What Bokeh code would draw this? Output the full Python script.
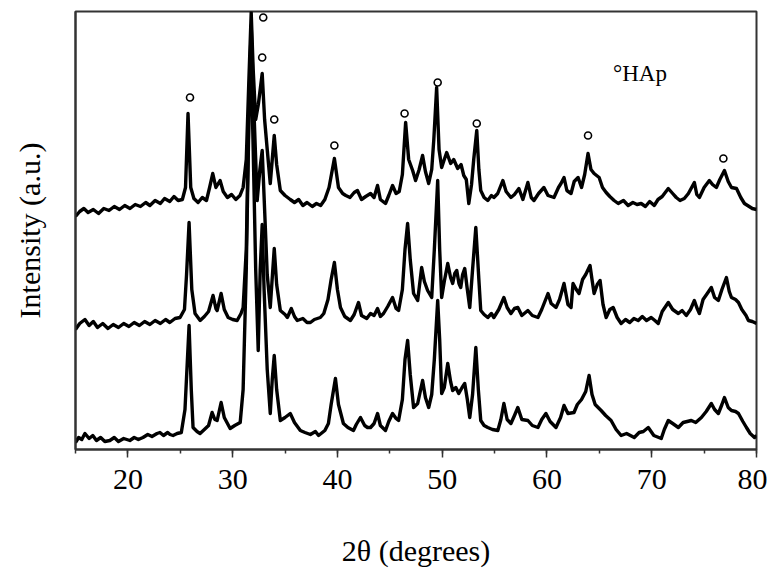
from bokeh.plotting import figure
from bokeh.models import Range1d, SingleIntervalTicker, FixedTicker
from bokeh.embed import file_html
from bokeh.resources import INLINE
from bokeh.core.properties import value

# XRD patterns (2theta in degrees, intensity in a.u.), three stacked samples
TOP = [(15.0, 233), (15.4, 238), (15.8, 241), (16.2, 237), (16.7, 240), (17.2, 236), (17.7, 241), (18.2, 239),
       (18.7, 243), (19.2, 240), (19.7, 244), (20.2, 241), (20.7, 245), (21.2, 243), (21.7, 247), (22.1, 244),
       (22.6, 249), (23.1, 246), (23.5, 251), (24.0, 248), (24.4, 253), (24.8, 249), (25.2, 250), (25.5, 262),
       (25.74, 336), (26.0, 262), (26.3, 251), (26.7, 247), (27.1, 252), (27.5, 249), (27.8, 262), (28.1, 276),
       (28.4, 262), (28.8, 269), (29.1, 258), (29.5, 252), (29.9, 255), (30.3, 250), (30.7, 254), (31.0, 262),
       (31.3, 290), (31.55, 370), (31.77, 437), (31.96, 380), (32.2, 330), (32.45, 345), (32.82, 376), (33.05, 330),
       (33.3, 300), (33.59, 266), (33.78, 290), (33.97, 314), (34.2, 285), (34.55, 259), (35.0, 254), (35.5, 250),
       (35.9, 247), (36.3, 250), (36.7, 244), (37.1, 247), (37.6, 243), (38.0, 246), (38.4, 244), (38.8, 250),
       (39.2, 262), (39.71, 291), (40.1, 262), (40.5, 256), (40.8, 254), (41.2, 252), (41.6, 257), (41.91, 259),
       (42.3, 250), (42.7, 253), (43.16, 256), (43.5, 252), (43.83, 264), (44.1, 250), (44.59, 246), (44.9, 254),
       (45.26, 264), (45.6, 256), (45.9, 258), (46.2, 275), (46.51, 327), (46.8, 290), (47.18, 279), (47.46, 269),
       (47.8, 280), (48.13, 294), (48.4, 278), (48.71, 266), (49.0, 280), (49.2, 310), (49.47, 362), (49.7, 300),
       (49.95, 282), (50.2, 290), (50.43, 297), (50.81, 286), (51.1, 290), (51.48, 281), (51.8, 285), (52.06, 274),
       (52.3, 270), (52.54, 246), (52.8, 265), (53.01, 290), (53.3, 319), (53.5, 280), (53.68, 259), (54.0, 252),
       (54.35, 249), (54.7, 254), (54.93, 252), (55.3, 256), (55.79, 269), (56.1, 258), (56.56, 252), (56.9, 255),
       (57.32, 261), (57.7, 250), (58.18, 267), (58.5, 252), (58.76, 249), (59.2, 256), (59.71, 262), (60.1, 254),
       (60.67, 252), (61.1, 262), (61.34, 266), (61.63, 272), (61.9, 259), (62.3, 256), (62.6, 268), (62.97, 272),
       (63.3, 262), (63.6, 275), (63.92, 296), (64.2, 280), (64.5, 276), (64.98, 272), (65.3, 262), (65.65, 257),
       (66.0, 253), (66.41, 249), (66.8, 246), (67.3, 249), (67.75, 244), (68.2, 247), (68.6, 245), (68.99, 246),
       (69.4, 243), (69.8, 248), (70.24, 244), (70.6, 250), (71.0, 253), (71.58, 261), (72.0, 256), (72.34, 252),
       (72.7, 249), (73.11, 251), (73.5, 256), (74.07, 267), (74.3, 255), (74.55, 252), (75.0, 262), (75.5, 269),
       (75.8, 265), (76.17, 262), (76.5, 270), (76.94, 279), (77.3, 268), (77.61, 262), (78.09, 261), (78.5, 252),
       (78.85, 246), (79.3, 243), (79.6, 241), (80.0, 240)]

MIDDLE = [(15.0, 120), (15.4, 126), (15.9, 130), (16.3, 124), (16.7, 128), (17.1, 122), (17.6, 126), (18.1, 121),
          (18.6, 125), (19.1, 122), (19.6, 126), (20.1, 123), (20.6, 127), (21.1, 124), (21.6, 128), (22.1, 125),
          (22.6, 129), (23.1, 126), (23.6, 130), (24.0, 127), (24.5, 131), (24.98, 132), (25.4, 140), (25.6, 175),
          (25.84, 227), (26.1, 160), (26.41, 136), (26.9, 129), (27.3, 133), (27.7, 138), (28.13, 154), (28.4, 141),
          (28.52, 139), (28.9, 156), (29.2, 140), (29.57, 132), (30.0, 130), (30.43, 129), (30.8, 136), (31.0, 142),
          (31.3, 200), (31.55, 340), (31.77, 424), (31.96, 360), (32.2, 290), (32.34, 249), (32.6, 280), (32.82, 299),
          (33.05, 240), (33.3, 175), (33.59, 142), (33.8, 175), (33.97, 201), (34.2, 165), (34.55, 139), (35.0, 135),
          (35.22, 132), (35.6, 141), (35.9, 133), (36.17, 129), (36.7, 131), (37.1, 127), (37.42, 127), (37.8, 130),
          (38.37, 132), (38.7, 136), (39.1, 150), (39.4, 170), (39.71, 187), (40.0, 160), (40.29, 142), (40.7, 133),
          (41.24, 129), (41.6, 135), (42.01, 147), (42.3, 134), (42.8, 131), (43.16, 136), (43.5, 134), (43.83, 141),
          (44.1, 133), (44.4, 136), (44.8, 143), (45.26, 152), (45.6, 141), (45.84, 139), (46.2, 160), (46.45, 200),
          (46.7, 226), (46.95, 190), (47.27, 156), (47.66, 149), (48.04, 182), (48.3, 168), (48.61, 159), (49.0, 152),
          (49.25, 200), (49.57, 269), (49.76, 200), (49.95, 152), (50.2, 168), (50.53, 186), (50.8, 172), (51.0, 166),
          (51.2, 176), (51.39, 179), (51.6, 166), (51.77, 162), (51.95, 175), (52.15, 181), (52.4, 160), (52.63, 142),
          (52.9, 180), (53.21, 222), (53.5, 170), (53.68, 139), (54.0, 135), (54.35, 132), (54.7, 136), (54.93, 132),
          (55.4, 140), (55.89, 152), (56.2, 142), (56.56, 136), (56.9, 141), (57.22, 142), (57.6, 134), (58.18, 139),
          (58.6, 134), (59.14, 132), (59.5, 140), (60.1, 156), (60.4, 146), (60.86, 142), (61.2, 150), (61.63, 166),
          (62.0, 145), (62.3, 142), (62.49, 166), (62.8, 160), (63.06, 156), (63.4, 170), (63.7, 175), (64.11, 184),
          (64.3, 170), (64.5, 156), (64.8, 165), (65.07, 169), (65.35, 145), (65.65, 132), (66.0, 140), (66.32, 142),
          (66.7, 132), (67.08, 126), (67.5, 130), (67.9, 127), (68.3, 131), (68.71, 129), (69.1, 133), (69.5, 129),
          (69.95, 132), (70.3, 129), (70.62, 126), (71.0, 138), (71.58, 147), (72.0, 140), (72.54, 136), (72.9, 139),
          (73.3, 134), (73.7, 140), (74.07, 149), (74.3, 142), (74.55, 136), (74.9, 150), (75.3, 156), (75.69, 162),
          (76.0, 152), (76.36, 149), (76.7, 160), (77.13, 172), (77.4, 158), (77.61, 152), (78.0, 150), (78.28, 147),
          (78.6, 140), (79.0, 134), (79.23, 129), (79.6, 128), (80.0, 126)]

BOTTOM = [(15.0, 7), (15.3, 12), (15.6, 10), (15.9, 16), (16.3, 11), (16.65, 14), (17.0, 9), (17.4, 12), (17.8, 8),
          (18.28, 9), (18.7, 12), (19.1, 8), (19.6, 11), (20.19, 9), (20.6, 12), (21.0, 10), (21.44, 12), (21.9, 15),
          (22.3, 13), (22.78, 16), (23.06, 17), (23.4, 14), (23.8, 17), (24.02, 15), (24.31, 14), (24.7, 16),
          (25.1, 17), (25.45, 40), (25.84, 124), (26.05, 60), (26.22, 22), (26.6, 18), (26.89, 16), (27.3, 20),
          (27.7, 24), (28.04, 37), (28.3, 30), (28.52, 29), (28.9, 47), (29.2, 32), (29.76, 21), (30.2, 24),
          (30.72, 27), (31.0, 60), (31.3, 180), (31.55, 330), (31.77, 390), (31.96, 300), (32.2, 180), (32.44, 99),
          (32.63, 180), (32.82, 225), (33.0, 160), (33.3, 80), (33.59, 36), (33.78, 70), (33.97, 94), (34.2, 60),
          (34.55, 29), (35.0, 32), (35.5, 36), (35.9, 27), (36.46, 19), (36.9, 17), (37.42, 15), (37.9, 18),
          (38.2, 14), (38.8, 19), (39.14, 26), (39.4, 45), (39.81, 71), (40.1, 45), (40.57, 26), (41.0, 22),
          (41.53, 19), (41.8, 25), (42.2, 32), (42.6, 24), (42.87, 22), (43.16, 22), (43.5, 26), (43.83, 36),
          (44.1, 24), (44.59, 19), (44.9, 28), (45.26, 36), (45.6, 31), (45.84, 29), (46.2, 50), (46.45, 90),
          (46.7, 109), (46.95, 75), (47.27, 42), (47.66, 46), (48.13, 69), (48.4, 52), (48.71, 42), (49.0, 55),
          (49.25, 90), (49.57, 149), (49.76, 110), (49.95, 56), (50.2, 62), (50.53, 86), (50.8, 68), (51.0, 59),
          (51.3, 62), (51.58, 56), (51.9, 62), (52.15, 66), (52.4, 50), (52.63, 32), (52.9, 55), (53.21, 102),
          (53.45, 60), (53.68, 29), (54.0, 24), (54.35, 22), (54.8, 20), (55.31, 19), (55.6, 30), (55.89, 46),
          (56.2, 30), (56.56, 26), (56.9, 34), (57.22, 42), (57.6, 30), (58.18, 29), (58.6, 24), (59.14, 22),
          (59.5, 30), (59.9, 36), (60.3, 28), (60.86, 22), (61.3, 32), (61.63, 44), (62.0, 36), (62.58, 37),
          (62.9, 45), (63.3, 50), (63.7, 58), (64.02, 74), (64.3, 55), (64.6, 45), (65.17, 39), (65.6, 34),
          (66.12, 29), (66.6, 20), (67.08, 14), (67.6, 16), (68.33, 12), (68.8, 17), (69.2, 18), (69.67, 22),
          (70.2, 14), (70.91, 11), (71.2, 20), (71.58, 29), (72.0, 26), (72.54, 22), (73.0, 27), (73.78, 29),
          (74.2, 27), (74.74, 32), (75.2, 38), (75.69, 46), (76.0, 40), (76.36, 36), (76.7, 45), (76.94, 52),
          (77.3, 42), (77.61, 39), (78.0, 38), (78.28, 36), (78.7, 28), (79.04, 22), (79.4, 16), (79.81, 12),
          (80.0, 14)]

# HAp reflection markers (2theta, marker height)
HAP_THETA = [25.93, 32.92, 32.82, 33.97, 39.71, 46.41, 49.57, 53.30, 63.92, 76.84]
HAP_MARK = [352, 432, 392, 330, 304, 336, 367, 326, 314, 291]

X_TICK_INTERVAL = 10
LEGEND_TEXT = "°HAp"
X_LABEL = "2θ (degrees)"
Y_LABEL = "Intensity (a.u.)"

SERIF = "Liberation Serif"
FRAME = "#333333"

p = figure(width=767, height=572, x_range=Range1d(15, 80), y_range=Range1d(0, 438),
           output_backend="svg", toolbar_location=None,
           min_border_left=75, min_border_right=11, min_border_top=11, min_border_bottom=123)
p.grid.visible = False
p.background_fill_color = "white"
p.border_fill_color = "white"
p.outline_line_color = FRAME
p.outline_line_width = 2

for series in (TOP, MIDDLE, BOTTOM):
    xs = [a for a, b in series]
    ys = [b for a, b in series]
    p.line(xs, ys, line_color="black", line_width=3.4, line_join="round")

p.scatter(HAP_THETA, HAP_MARK, marker="circle", size=7, fill_color="white",
          line_color="black", line_width=1.6)

p.text(x=[66.3], y=[376], text=[LEGEND_TEXT], text_font=value(SERIF), text_font_size="23px",
       text_color="black", text_baseline="alphabetic", text_align="left")

xa = p.xaxis[0]
xa.ticker = SingleIntervalTicker(interval=X_TICK_INTERVAL, num_minor_ticks=2)
xa.axis_line_color = FRAME
xa.axis_line_width = 2
xa.major_tick_line_color = FRAME
xa.minor_tick_line_color = FRAME
xa.major_tick_line_width = 1.5
xa.minor_tick_line_width = 1.5
xa.major_tick_out = 8
xa.major_tick_in = 0
xa.minor_tick_out = 4
xa.minor_tick_in = 0
xa.major_label_text_font = SERIF
xa.major_label_text_font_size = "30px"
xa.major_label_text_color = "black"
xa.major_label_standoff = 12
xa.axis_label = X_LABEL
xa.axis_label_text_font = SERIF
xa.axis_label_text_font_size = "30px"
xa.axis_label_text_font_style = "normal"
xa.axis_label_text_color = "black"
xa.axis_label_standoff = 42

ya = p.yaxis[0]
ya.ticker = FixedTicker(ticks=[])
ya.axis_line_color = FRAME
ya.axis_line_width = 2
ya.major_tick_out = 0
ya.minor_tick_out = 0
ya.major_label_standoff = 0
ya.axis_label = Y_LABEL
ya.axis_label_text_font = SERIF
ya.axis_label_text_font_size = "30px"
ya.axis_label_text_font_style = "normal"
ya.axis_label_text_color = "black"
ya.axis_label_standoff = 30

open("out.html", "w").write(file_html(p, INLINE))
